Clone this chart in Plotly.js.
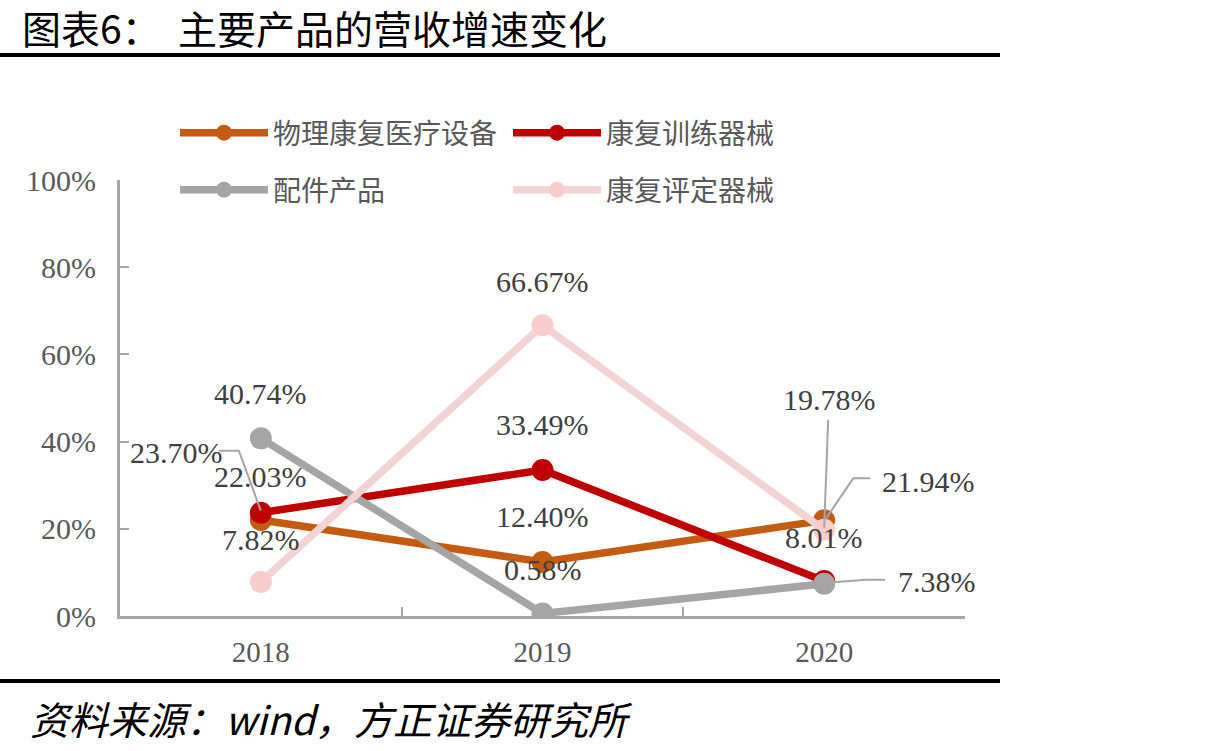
<!DOCTYPE html>
<html>
<head>
<meta charset="utf-8">
<script src="https://cdn.plot.ly/plotly-3.0.1.min.js"></script>
<style>html,body{margin:0;padding:0;background:#fff;}#chart{width:1217px;height:751px;}</style>
</head>
<body>
<div id="chart"></div>
<script>
// ---- data ----
const years = ['2018', '2019', '2020'];
const seriesNames = ['物理康复医疗设备', '康复训练器械', '配件产品', '康复评定器械'];
const physio = [22.03, 12.40, 21.94];
const training = [23.70, 33.49, 8.01];
const parts = [40.74, 0.58, 7.38];
const assess = [7.82, 66.67, 19.78];
const yTicks = [0, 20, 40, 60, 80, 100];
const titleText = '图表6：  主要产品的营收增速变化';
const sourceText = '资料来源：wind，方正证券研究所';

// ---- styles / layout constants ----
const W = 1217, H = 751;
const M = {l: 120, r: 252, t: 180, b: 135};
const PW = W - M.l - M.r, PH = H - M.t - M.b;
const px2x = p => (p - M.l) / PW;
const py2y = p => (H - M.b - p) / PH;

const lineColors = ['#C55A11', '#C00000', '#A5A5A5', '#F3D3D3'];
const markerColors = ['#C55A11', '#C00000', '#A5A5A5', '#FACDCD'];
const allSeries = [physio, training, parts, assess];
const legendIds = ['legend', 'legend', 'legend2', 'legend2'];

// label offsets (px, right / up) per series per year
const labelShift = [
  [[0, 43], [0, 45], [104, 39]],
  [[-84, 60], [0, 45], [0, 44]],
  [[0, 45], [0, 44], [113, 2]],
  [[0, 42], [0, 44], [5, 130]]
];
// leader lines: [seriesIndex, yearIndex, path (px relative, y up)]
const leaders = [
  [1, 0, 'M0,2 L-22,62 L-42,62'],
  [0, 2, 'M2,2 L29,42 L46,42'],
  [2, 2, 'M2,1 L42,4 L61,4'],
  [3, 2, 'M0,2 L4,110']
];

const traces = allSeries.map((vals, i) => ({
  type: 'scatter', mode: 'lines+markers',
  x: years, y: vals, name: seriesNames[i],
  legend: legendIds[i],
  line: {color: lineColors[i], width: 7.5},
  marker: {color: markerColors[i], size: 22},
  hoverinfo: 'x+y'
}));

const annotations = [];
allSeries.forEach((vals, i) => {
  vals.forEach((v, j) => {
    annotations.push({
      x: j, y: v, xref: 'x', yref: 'y',
      text: v.toFixed(2) + '%', showarrow: false,
      xanchor: 'center', yanchor: 'middle',
      xshift: labelShift[i][j][0], yshift: labelShift[i][j][1],
      font: {family: 'Liberation Serif, Times New Roman, serif', size: 30, color: '#404040'}
    });
  });
});
annotations.push({
  xref: 'paper', yref: 'paper', x: px2x(28), y: py2y(718),
  xanchor: 'left', yanchor: 'middle', showarrow: false,
  text: sourceText,
  font: {family: 'Noto Sans CJK SC, sans-serif', size: 39, color: '#000', style: 'italic'}
});

const shapes = [
  {type: 'line', xref: 'paper', yref: 'paper', x0: px2x(0), x1: px2x(1000), y0: py2y(55), y1: py2y(55), line: {color: '#000', width: 4}},
  {type: 'line', xref: 'paper', yref: 'paper', x0: px2x(0), x1: px2x(1000), y0: py2y(681), y1: py2y(681), line: {color: '#000', width: 4}}
];
leaders.forEach(([s, j, p]) => {
  shapes.push({
    type: 'path', xref: 'x', yref: 'y', xsizemode: 'pixel', ysizemode: 'pixel',
    xanchor: j, yanchor: allSeries[s][j], path: p,
    line: {color: '#A6A6A6', width: 2}
  });
});

const legendFont = {family: 'Noto Sans CJK SC, sans-serif', size: 28, color: '#595959'};
const layout = {
  width: W, height: H,
  margin: M,
  paper_bgcolor: '#fff', plot_bgcolor: '#fff',
  title: {text: titleText, xref: 'container', yref: 'container', x: 22 / W, y: 1 - 30 / H,
          xanchor: 'left', yanchor: 'middle',
          font: {family: 'Noto Sans CJK SC, sans-serif', size: 39, color: '#000'}},
  showlegend: true,
  legend: {orientation: 'h', x: px2x(175), y: py2y(133), xanchor: 'left', yanchor: 'middle',
           font: legendFont, itemwidth: 88, entrywidth: 230, bgcolor: 'rgba(0,0,0,0)'},
  legend2: {orientation: 'h', x: px2x(175), y: py2y(190), xanchor: 'left', yanchor: 'middle',
           font: legendFont, itemwidth: 88, entrywidth: 230, bgcolor: 'rgba(0,0,0,0)'},
  xaxis: {type: 'category', range: [-0.5, 2.5], showline: true, linecolor: '#A6A6A6', linewidth: 3,
          ticks: 'inside', ticklen: 9, tickwidth: 2, tickcolor: '#A6A6A6', tickson: 'boundaries',
          showgrid: false, zeroline: false, ticklabelstandoff: 8,
          tickfont: {family: 'Liberation Serif, Times New Roman, serif', size: 29, color: '#595959'}},
  yaxis: {range: [0, 100], tickvals: yTicks, ticktext: yTicks.map(v => v + '%'),
          showline: true, linecolor: '#A6A6A6', linewidth: 3,
          ticks: 'inside', ticklen: 9, tickwidth: 2, tickcolor: '#A6A6A6',
          showgrid: false, zeroline: false, ticklabelstandoff: 15,
          tickfont: {family: 'Liberation Serif, Times New Roman, serif', size: 30, color: '#595959'}},
  annotations: annotations,
  shapes: shapes
};

Plotly.newPlot('chart', traces, layout, {displayModeBar: false, staticPlot: true});
</script>
</body>
</html>
